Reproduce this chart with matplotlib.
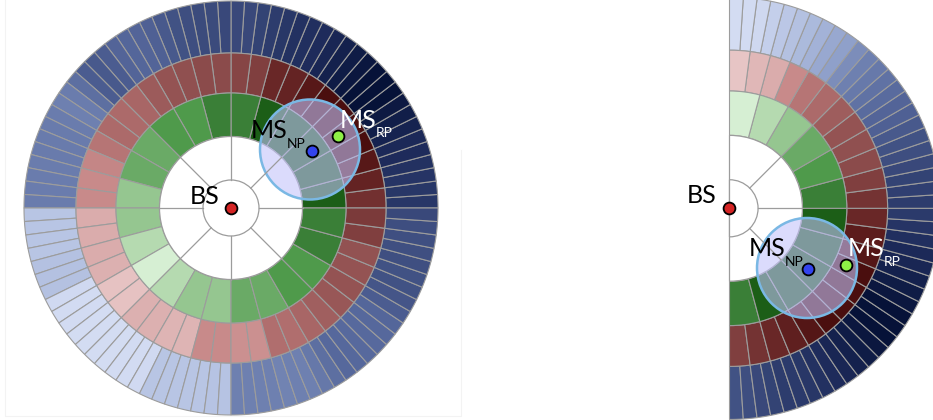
import numpy as np
import matplotlib.pyplot as plt
from matplotlib.patches import Wedge, Circle
from matplotlib.colors import LinearSegmentedColormap

# shade levels per segment, 0 = lightest, 1 = darkest
# left disc: full circle, segments start at 0 deg and run counter-clockwise
green_left = [6, 6, 6, 6, 6, 5, 5, 4, 4, 3, 3, 2, 2, 1, 0, 1, 2, 2, 3, 3, 4, 4, 5, 5]
red_left = [0.85, 0.9, 0.95, 1.0, 1.0, 1.0, 1.0, 0.95, 0.9, 0.88, 0.8, 0.78,
            0.76, 0.76, 0.74, 0.72, 0.68, 0.62, 0.6, 0.6, 0.55, 0.47, 0.45, 0.45,
            0.27, 0.27, 0.27, 0.25, 0.12, 0.12, 0.25, 0.25, 0.22, 0.22, 0.45, 0.45,
            0.42, 0.42, 0.58, 0.58, 0.62, 0.66, 0.7, 0.72, 0.72, 0.73, 0.8, 0.82]
blue_left = [0.86, 0.86, 0.87, 0.88, 0.9, 0.91, 0.93, 0.95, 0.97, 1.0, 1.0, 1.0,
             0.98, 0.96, 0.94, 0.92, 0.9, 0.89, 0.88, 0.86, 0.84, 0.82, 0.8, 0.8,
             0.8, 0.79, 0.79, 0.78, 0.76, 0.72, 0.68, 0.66, 0.65, 0.66, 0.7, 0.72,
             0.7, 0.6, 0.52, 0.5, 0.52, 0.53, 0.53, 0.53, 0.52, 0.52, 0.52, 0.52,
             0.2, 0.2, 0.2, 0.2, 0.22, 0.22, 0.22, 0.04, 0.03, 0.03, 0.02, 0.02,
             0.02, 0.02, 0.03, 0.03, 0.04, 0.2, 0.2, 0.2, 0.2, 0.2, 0.21, 0.21,
             0.5, 0.5, 0.5, 0.5, 0.49, 0.5, 0.5, 0.55, 0.6, 0.64, 0.64, 0.63,
             0.63, 0.64, 0.65, 0.7, 0.74, 0.76, 0.76, 0.77, 0.77, 0.77, 0.78, 0.8]

# right disc: half circle from -90 to 90 deg
green_right = [5, 6, 6, 6, 6, 6, 5, 4, 3, 2, 1, 0]
red_right = [0.8, 0.84, 0.88, 0.92, 0.96, 1.0, 1.0, 1.0, 1.0, 0.96, 0.93, 0.88,
             0.84, 0.8, 0.76, 0.74, 0.72, 0.67, 0.6, 0.55, 0.45, 0.27, 0.2, 0.1]
blue_right = [0.76, 0.78, 0.8, 0.82, 0.84, 0.85, 0.86, 0.88, 0.9, 0.92, 0.94, 0.96,
              0.98, 1.0, 1.0, 1.0, 0.98, 0.96, 0.94, 0.92, 0.91, 0.89, 0.87, 0.85,
              0.84, 0.83, 0.82, 0.8, 0.78, 0.76, 0.72, 0.68, 0.66, 0.62, 0.58, 0.54,
              0.5, 0.45, 0.38, 0.35, 0.3, 0.26, 0.22, 0.18, 0.12, 0.05, 0.03, 0.02]

greens = LinearSegmentedColormap.from_list(
    "g", ["#d6efd3", "#b5dab0", "#95c690", "#6aaa66", "#4f9a4b", "#3a7f37", "#1c5e17"])
reds = LinearSegmentedColormap.from_list(
    "r", [(0, "#eed2d2"), (0.25, "#dcb0b0"), (0.45, "#c88a8a"), (0.6, "#ac6a6a"),
          (0.75, "#8e4e4e"), (0.88, "#6a2828"), (1, "#4a0e0e")])
blues = LinearSegmentedColormap.from_list(
    "b", [(0, "#d6def4"), (0.2, "#b8c5e4"), (0.35, "#98a8d0"), (0.5, "#6e80b0"),
          (0.65, "#54669a"), (0.78, "#3e4e80"), (0.9, "#1e2c5c"), (1, "#061238")])

EDGE = "#9c9c9c"
H = 420


def ring(ax, cx, cy, r_in, r_out, start, stop, values, cmap, vmax=1.0):
    step = (stop - start) / len(values)
    for i, v in enumerate(values):
        ax.add_patch(Wedge((cx, cy), r_out, start + i * step, start + (i + 1) * step,
                           width=r_out - r_in, facecolor=cmap(v / vmax),
                           edgecolor=EDGE, lw=0.8))


def disc(ax, cx, cy, s, start, stop, green, red, blue, spokes):
    r0, r1, r2, r3, r4 = 28 * s, 71.5 * s, 115 * s, 155 * s, 207 * s
    ring(ax, cx, cy, r3, r4, start, stop, blue, blues)
    ring(ax, cx, cy, r2, r3, start, stop, red, reds)
    ring(ax, cx, cy, r1, r2, start, stop, green, greens, vmax=6)
    ax.add_patch(Wedge((cx, cy), r1, start, stop, facecolor="white", edgecolor=EDGE, lw=0.9))
    for a in spokes:
        ax.plot([cx + r0 * np.cos(np.radians(a)), cx + r1 * np.cos(np.radians(a))],
                [cy + r0 * np.sin(np.radians(a)), cy + r1 * np.sin(np.radians(a))],
                color=EDGE, lw=0.9)
    ax.add_patch(Wedge((cx, cy), r0, start, stop, facecolor="white", edgecolor=EDGE, lw=0.9))


def label(ax, x, y, sub, color, subx, suby):
    ax.text(x, H - y, "MS", fontsize=18, color=color, family="Lato", ha="left", va="baseline")
    ax.text(subx, H - suby, sub, fontsize=10, color=color, family="Lato", ha="left", va="baseline")


fig = plt.figure(figsize=(9.33, 4.2), dpi=100)
ax = fig.add_axes([0, 0, 1, 1])
ax.set_xlim(0, 933)
ax.set_ylim(0, H)
ax.set_aspect("equal")
ax.axis("off")

# faint panel frame
ax.plot([5, 5, 461, 461], [H, H - 416, H - 416, H - 150], color="#f3f3f3", lw=0.8)

disc(ax, 231, H - 208, 1.0, 0, 360, green_left, red_left, blue_left, range(0, 360, 45))
disc(ax, 729.5, H - 208.3, 1.02, -90, 90, green_right, red_right, blue_right, [-45, 0, 45])

for (bx, by) in [(310, 149.5), (807, 268)]:
    ax.add_patch(Circle((bx, H - by), 50, facecolor="#c3c3fa", alpha=0.59, edgecolor="none"))
    ax.add_patch(Circle((bx, H - by), 50, facecolor="none", edgecolor="#7ab8e4", lw=1.8))

dots = [(231, 208, "#d42424"), (311.7, 151, "#3344ee"), (338.3, 135.7, "#8ef046"),
        (729.3, 208.3, "#d42424"), (807.7, 269, "#3344ee"), (845.7, 265, "#8ef046")]
for x, y, c in dots:
    ax.plot(x, H - y, "o", ms=8.5, mfc=c, mec="black", mew=1.3)

ax.text(190, H - 204, "BS", fontsize=18, family="Lato", ha="left", va="baseline")
ax.text(687, H - 203, "BS", fontsize=18, family="Lato", ha="left", va="baseline")
label(ax, 251, 138, "NP", "black", 287, 148)
label(ax, 340, 128, "RP", "white", 376, 137)
label(ax, 749, 256, "NP", "black", 785, 266)
label(ax, 848, 256, "RP", "white", 884, 266)

plt.savefig("out.png", dpi=100)
